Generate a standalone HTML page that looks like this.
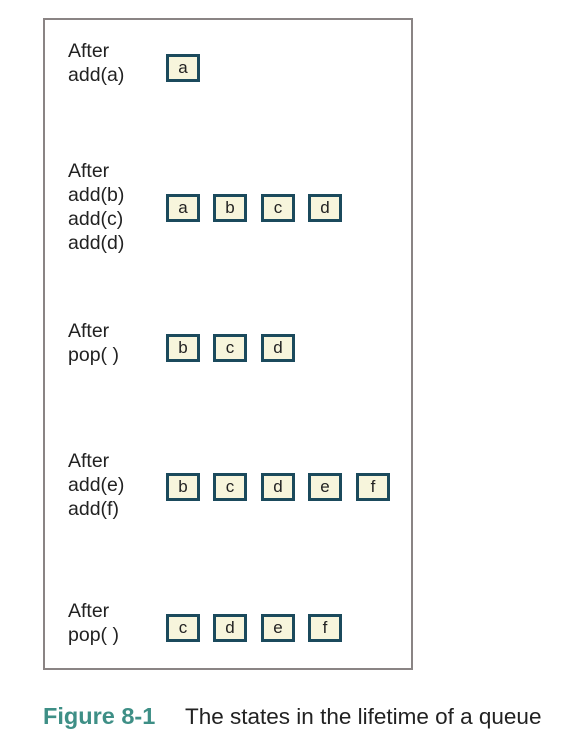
<!DOCTYPE html>
<html><head><style>
body{margin:0;width:571px;height:749px;background:#fff;position:relative;font-family:"Liberation Sans",sans-serif;overflow:hidden}
.frame{position:absolute;left:43px;top:18px;width:366px;height:648px;border:2px solid #8a8484}
.t{position:absolute;left:68px;font-size:19.5px;line-height:24px;color:#222}
.b{position:absolute;width:28px;height:22px;border:3px solid #1b4a5c;background:#f7f5dc;font-size:17px;line-height:21px;text-align:center;color:#222}
.cap{position:absolute;top:704px;font-size:22.5px;white-space:nowrap}
</style></head><body>
<div class="frame"></div>
<div class="t" style="top:39px">After<br>add(a)</div>
<div class="b" style="left:166px;top:54px">a</div>

<div class="t" style="top:159px">After<br>add(b)<br>add(c)<br>add(d)</div>
<div class="b" style="left:166px;top:194px">a</div>
<div class="b" style="left:213px;top:194px">b</div>
<div class="b" style="left:261px;top:194px">c</div>
<div class="b" style="left:308px;top:194px">d</div>

<div class="t" style="top:319px">After<br>pop( )</div>
<div class="b" style="left:166px;top:334px">b</div>
<div class="b" style="left:213px;top:334px">c</div>
<div class="b" style="left:261px;top:334px">d</div>

<div class="t" style="top:449px">After<br>add(e)<br>add(f)</div>
<div class="b" style="left:166px;top:473px">b</div>
<div class="b" style="left:213px;top:473px">c</div>
<div class="b" style="left:261px;top:473px">d</div>
<div class="b" style="left:308px;top:473px">e</div>
<div class="b" style="left:356px;top:473px">f</div>

<div class="t" style="top:599px">After<br>pop( )</div>
<div class="b" style="left:166px;top:614px">c</div>
<div class="b" style="left:213px;top:614px">d</div>
<div class="b" style="left:261px;top:614px">e</div>
<div class="b" style="left:308px;top:614px">f</div>

<div class="cap" style="left:43px;color:#3e8f86;font-weight:bold;font-size:23.5px;top:703px">Figure 8-1</div>
<div class="cap" style="left:185px;color:#222">The states in the lifetime of a queue</div>
</body></html>
